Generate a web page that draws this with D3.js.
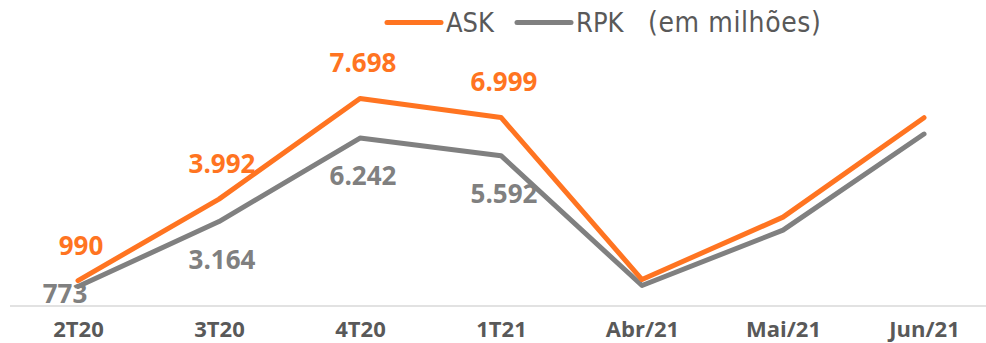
<!DOCTYPE html>
<html>
<head>
<meta charset="utf-8">
<script src="https://cdn.jsdelivr.net/npm/d3@7"></script>
<style>
  html, body { margin: 0; padding: 0; background: #fff; }
  svg { display: block; }
</style>
</head>
<body>
<svg id="chart" width="986" height="343"></svg>
<script>
// Quarterly / monthly capacity and traffic (millions)
const categories = ["2T20", "3T20", "4T20", "1T21", "Abr/21", "Mai/21", "Jun/21"];
const askValues = [990, 3992, 7698, 6999, 1030, 3330, 6990];
const rpkValues = [773, 3164, 6242, 5592, 810, 2850, 6390];
// Only the quarters carry value labels
const askLabels = ["990", "3.992", "7.698", "6.999", null, null, null];
const rpkLabels = ["773", "3.164", "6.242", "5.592", null, null, null];

const ORANGE = "#FF7421";
const GRAY = "#808080";
const TEXT = "#595959";

const svg = d3.select("#chart");
const plotLeft = 10, plotRight = 986, plotBottom = 306;

const x = d3.scalePoint().domain(categories).range([78, 924]);
const y = d3.scaleLinear().domain([0, 8000]).range([307.5, 90.3]);

// baseline of the plot area
svg.append("line")
  .attr("x1", plotLeft).attr("x2", plotRight)
  .attr("y1", plotBottom).attr("y2", plotBottom)
  .attr("stroke", "#d9d9d9").attr("stroke-width", 1.5);

// category axis (labels only)
const xAxis = d3.axisBottom(x).tickSize(0).tickPadding(0);
const gx = svg.append("g").attr("transform", `translate(0,${plotBottom})`).call(xAxis);
gx.select(".domain").remove();
gx.selectAll("text")
  .attr("dy", null)
  .attr("y", 31)
  .attr("fill", TEXT)
  .style("font-family", "'Open Sans', sans-serif")
  .style("font-weight", "700")
  .style("font-size", "22px");

const line = d3.line()
  .x((d, i) => x(categories[i]))
  .y(d => y(d));

const series = [
  { name: "RPK", values: rpkValues, labels: rpkLabels, color: GRAY, above: false },
  { name: "ASK", values: askValues, labels: askLabels, color: ORANGE, above: true }
];

series.forEach(s => {
  svg.append("path")
    .datum(s.values)
    .attr("d", line)
    .attr("fill", "none")
    .attr("stroke", s.color)
    .attr("stroke-width", 5)
    .attr("stroke-linecap", "round")
    .attr("stroke-linejoin", "round");
});

// value labels: ASK above its line, RPK below; a label that would fall
// under the baseline is pulled up and nudged left of its point
series.forEach(s => {
  s.values.forEach((v, i) => {
    const lab = s.labels[i];
    if (!lab) return;
    let px = x(categories[i]);
    let py;
    if (s.above) {
      py = y(v) - 26;
    } else {
      py = y(v) + 47;
      if (py > plotBottom - 3) {
        py = plotBottom - 3;
        px -= 16;
      }
    }
    svg.append("text")
      .attr("x", px + 3)
      .attr("y", py)
      .attr("text-anchor", "middle")
      .attr("fill", s.color)
      .style("font-family", "'Open Sans', sans-serif")
      .style("font-weight", "700")
      .style("font-size", "26px")
      .text(lab);
  });
});

// legend
const legend = svg.append("g");
const legendFont = "'DejaVu Sans Condensed', 'DejaVu Sans', sans-serif";
const legendItems = [
  { name: "ASK", color: ORANGE, x0: 387 },
  { name: "RPK", color: GRAY, x0: 517 }
];
legendItems.forEach(it => {
  legend.append("line")
    .attr("x1", it.x0).attr("x2", it.x0 + 54)
    .attr("y1", 22.5).attr("y2", 22.5)
    .attr("stroke", it.color).attr("stroke-width", 5)
    .attr("stroke-linecap", "round");
  legend.append("text")
    .attr("x", it.x0 + 59).attr("y", 32)
    .attr("fill", TEXT)
    .style("font-family", legendFont)
    .style("font-stretch", "condensed")
    .style("font-size", "27px")
    .text(it.name);
});
legend.append("text")
  .attr("x", 648).attr("y", 32)
  .attr("fill", TEXT)
  .style("font-family", legendFont)
  .style("font-stretch", "condensed")
  .style("font-size", "28px")
  .style("letter-spacing", "0.6px")
  .text("(em milhões)");
</script>
</body>
</html>
